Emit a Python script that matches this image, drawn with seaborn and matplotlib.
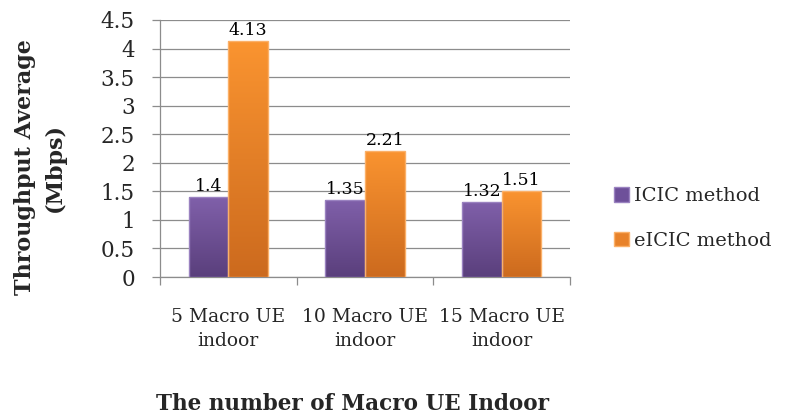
import numpy as np
import pandas as pd
import matplotlib
matplotlib.use("Agg")
import matplotlib.pyplot as plt
from matplotlib.colors import LinearSegmentedColormap
from matplotlib.patches import Patch
import seaborn as sns

# Data
categories = ["5 Macro UE\nindoor", "10 Macro UE\nindoor", "15 Macro UE\nindoor"]
methods = ["ICIC method", "eICIC method"]
icic_values = [1.4, 1.35, 1.32]
eicic_values = [4.13, 2.21, 1.51]
y_ticks = [0, 0.5, 1, 1.5, 2, 2.5, 3, 3.5, 4, 4.5]

df = pd.DataFrame({
    "category": categories * 2,
    "method": [methods[0]] * 3 + [methods[1]] * 3,
    "value": icic_values + eicic_values,
})

sns.set_theme(style="white")
plt.rcParams["font.family"] = ["DejaVu Serif"]

# top -> bottom gradients for each series
grad = {
    methods[0]: ("#8060aa", "#5a3f7c"),
    methods[1]: ("#fa9430", "#cc6a1e"),
}
edge = {methods[0]: "#9a82c0", methods[1]: "#fbb068"}
flat = {methods[0]: "#6e509a", methods[1]: "#e8822a"}

fig = plt.figure(figsize=(7.9, 4.16), dpi=100)
ax = fig.add_axes([0.2025, 0.334, 0.519, 0.618])

sns.barplot(data=df, x="category", y="value", hue="method", order=categories,
            hue_order=methods, palette=flat, width=0.58, gap=0, ax=ax,
            legend=False, linewidth=1.0, edgecolor="none", zorder=3)

ax.set_xlim(-0.5, 2.5)
ax.set_ylim(0, 4.5)

# gradient fill clipped to each bar
for container, m in zip(ax.containers, methods):
    cmap = LinearSegmentedColormap.from_list(m, [grad[m][1], grad[m][0]])
    for bar in container:
        x0, y0 = bar.get_x(), bar.get_y()
        w, h = bar.get_width(), bar.get_height()
        img = ax.imshow(np.linspace(0, 1, 256).reshape(-1, 1), cmap=cmap,
                        extent=[x0, x0 + w, y0, y0 + h], origin="lower",
                        aspect="auto", zorder=4)
        img.set_clip_path(bar)
        bar.set_edgecolor(edge[m])
        bar.set_zorder(5)
        bar.set_facecolor("none")
    labels = [f"{v:g}" for v in container.datavalues]
    ax.bar_label(container, labels=labels, padding=1.5, fontsize=12.5,
                 color="black", zorder=6)
ax.set_xlim(-0.5, 2.5)
ax.set_ylim(0, 4.5)
ax.set_aspect("auto")

# grid and spines
ax.set_yticks(y_ticks)
ax.set_yticklabels([f"{t:g}" for t in y_ticks], fontsize=15.5)
ax.yaxis.grid(True, color="#8c8c8c", linewidth=0.9, zorder=0)
ax.set_axisbelow(True)
for s in ["top", "right"]:
    ax.spines[s].set_visible(False)
for s in ["left", "bottom"]:
    ax.spines[s].set_color("#8c8c8c")
    ax.spines[s].set_linewidth(0.9)
ax.tick_params(axis="y", which="major", length=6, width=0.9, color="#8c8c8c",
               direction="out", left=True, pad=12)

ax.set_xticks([0, 1, 2])
ax.set_xticklabels(categories, fontsize=13.5, linespacing=1.45)
ax.set_xticks([-0.5, 0.5, 1.5, 2.5], minor=True)
ax.tick_params(axis="x", which="major", length=0, pad=22)
ax.tick_params(axis="x", which="minor", length=6, width=0.9, color="#8c8c8c",
               direction="out", bottom=True)

ax.set_xlabel("The number of Macro UE Indoor", fontsize=15.5, fontweight="bold",
              va="center")
ax.xaxis.set_label_coords(0.469, -0.494)
ax.set_ylabel("Throughput Average\n(Mbps)", fontsize=16, fontweight="bold",
              linespacing=1.5, va="center")
ax.yaxis.set_label_coords(-0.293, 0.428)

handles = [Patch(facecolor=flat[m], edgecolor=edge[m], label=m) for m in methods]
fig.legend(handles=handles, loc="center left", bbox_to_anchor=(0.755, 0.475),
           frameon=False, fontsize=14, handlelength=0.75, handleheight=0.75,
           handletextpad=0.3, labelspacing=1.35)

fig.savefig("out.png", dpi=100)
